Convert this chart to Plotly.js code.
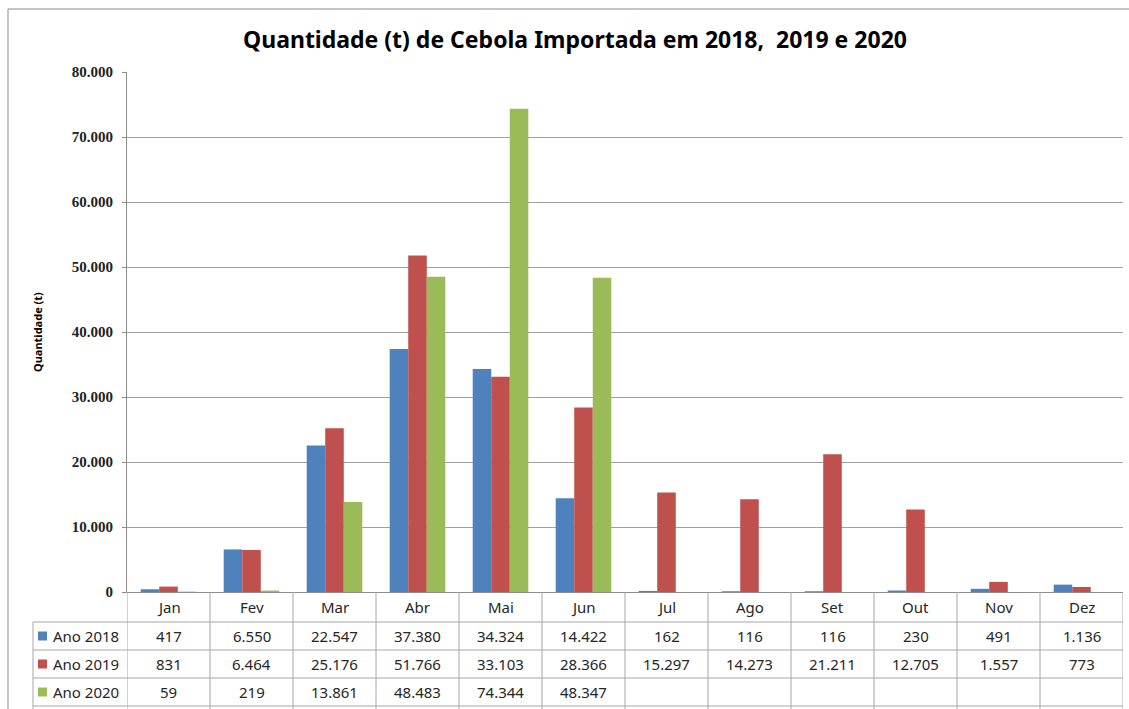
<!DOCTYPE html>
<html>
<head>
<meta charset="utf-8">
<script src="https://cdn.plot.ly/plotly-3.0.1.min.js"></script>
<style>html,body{margin:0;padding:0;background:#fff;}</style>
</head>
<body>
<div id="chart" style="width:1129px;height:709px;"></div>
<script>
const months = ["Jan","Fev","Mar","Abr","Mai","Jun","Jul","Ago","Set","Out","Nov","Dez"];
const seriesNames = ["Ano 2018","Ano 2019","Ano 2020"];
const ano2018 = [417, 6550, 22547, 37380, 34324, 14422, 162, 116, 116, 230, 491, 1136];
const ano2019 = [831, 6464, 25176, 51766, 33103, 28366, 15297, 14273, 21211, 12705, 1557, 773];
const ano2020 = [59, 219, 13861, 48483, 74344, 48347, null, null, null, null, null, null];
const colors = ["#4F81BD", "#C0504D", "#9BBB59"];
const allSeries = [ano2018, ano2019, ano2020];

// layout geometry (pixels)
const W = 1129, H = 709;
const plotL = 127, plotR = 1123, plotT = 72, plotB = 592;
const pw = plotR - plotL, ph = plotB - plotT;
const px = x => (x - plotL) / pw;
const py = y => (plotB - y) / ph;

function fmt(v) {
  if (v === null || v === undefined) return "";
  return String(v).replace(/\B(?=(\d{3})+(?!\d))/g, ".");
}

const traces = allSeries.map((vals, i) => ({
  type: "bar",
  name: seriesNames[i],
  x: months,
  y: vals,
  marker: {color: colors[i]},
  hoverinfo: "x+y+name"
}));

const lineCol = "#a6a6a6";
const shapes = [];
const annotations = [];
const font = "Noto Sans, Open Sans, sans-serif";
const tsize = 15;

// outer chart border (top + left)
shapes.push({type:"line", xref:"paper", yref:"paper", x0:px(8), x1:px(1129), y0:py(9), y1:py(9), line:{color:"#8c8c8c", width:1}});
shapes.push({type:"line", xref:"paper", yref:"paper", x0:px(8), x1:px(8), y0:py(9), y1:py(712), line:{color:"#8c8c8c", width:1}});

// table rows
const rowTops = [592, 622, 650, 678, 706];
const tableLeft = 33;
for (let r = 1; r < rowTops.length; r++) {
  shapes.push({type:"line", xref:"paper", yref:"paper", x0:px(tableLeft), x1:1, y0:py(rowTops[r]), y1:py(rowTops[r]), line:{color:lineCol, width:1}});
}
// vertical lines at category boundaries
for (let k = 0; k <= months.length; k++) {
  shapes.push({type:"line", xref:"x", yref:"paper", x0:k - 0.5, x1:k - 0.5, y0:py(592), y1:py(712), line:{color:lineCol, width:1}});
}
// legend column left border
shapes.push({type:"line", xref:"paper", yref:"paper", x0:px(tableLeft), x1:px(tableLeft), y0:py(622), y1:py(712), line:{color:lineCol, width:1}});

// month header
months.forEach(m => {
  annotations.push({xref:"x", yref:"paper", x:m, y:py(607), text:m, showarrow:false, xanchor:"center", yanchor:"middle", font:{family:font, size:tsize, color:"#262626"}});
});
// data rows
allSeries.forEach((vals, i) => {
  const yc = (rowTops[i+1] + rowTops[i+2]) / 2;
  // legend key
  shapes.push({type:"rect", xref:"paper", yref:"paper", x0:px(38), x1:px(47), y0:py(yc-4.5), y1:py(yc+4.5), fillcolor:colors[i], line:{width:0}});
  annotations.push({xref:"paper", yref:"paper", x:px(51), y:py(yc), text:seriesNames[i], showarrow:false, xanchor:"left", yanchor:"middle", font:{family:font, size:tsize, color:"#262626"}});
  vals.forEach((v, j) => {
    if (v === null) return;
    annotations.push({xref:"x", yref:"paper", x:months[j], y:py(yc), text:fmt(v), showarrow:false, xanchor:"center", yanchor:"middle", font:{family:font, size:tsize, color:"#262626"}});
  });
});

// y axis title
annotations.push({xref:"paper", yref:"paper", x:px(37), y:py(332), text:"Quantidade (t)", textangle:-90, showarrow:false, xanchor:"center", yanchor:"middle", font:{family:font, size:11, color:"#000", weight:"bold"}});

const layout = {
  width: W, height: H,
  margin: {l: plotL, r: W - plotR, t: plotT, b: H - plotB, pad: 0},
  paper_bgcolor: "#fff", plot_bgcolor: "#fff",
  separators: ",.",
  title: {text: "Quantidade (t) de Cebola Importada em 2018,  2019 e 2020", x: 575 / W, xref: "container", xanchor: "center", y: 1 - 40/H, yanchor: "middle",
          font: {family: "Noto Sans, sans-serif", size: 23, color: "#000", weight: "bold"}},
  showlegend: false,
  barmode: "group",
  bargap: 0.33,
  bargroupgap: 0,
  xaxis: {type: "category", showticklabels: false, ticks: "", showgrid: false, showline: true, linecolor: "#8c8c8c", linewidth: 1, zeroline: false, range: [-0.5, 11.5], fixedrange: true},
  yaxis: {range: [0, 80000], dtick: 10000, tickformat: ",d", showgrid: true, gridcolor: "#a0a0a0", gridwidth: 1,
          showline: true, linecolor: "#8c8c8c", linewidth: 1, ticks: "outside", ticklen: 4, tickcolor: "#8c8c8c",
          ticklabelstandoff: 6,
          zeroline: false, tickfont: {family: "Liberation Serif, serif", size: 15, color: "#222", weight: "bold"}, fixedrange: true},
  shapes: shapes,
  annotations: annotations
};

Plotly.newPlot("chart", traces, layout, {displayModeBar: false, staticPlot: true});
</script>
</body>
</html>
